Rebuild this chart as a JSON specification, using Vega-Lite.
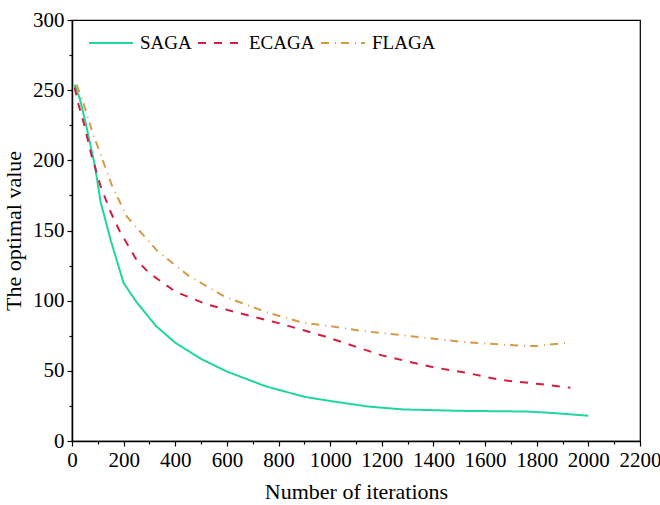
{
  "$schema": "https://vega.github.io/schema/vega-lite/v6.json",
  "width": 568,
  "height": 421,
  "autosize": {"type": "none"},
  "padding": {"left": 72, "top": 20, "right": 20, "bottom": 64},
  "background": "white",
  "config": {
    "font": "Liberation Serif",
    "view": {"stroke": "black", "strokeWidth": 1.2},
    "axis": {
      "grid": false,
      "domainColor": "black",
      "domainWidth": 1.5,
      "tickColor": "black",
      "tickWidth": 1.2,
      "tickSize": 5,
      "labelColor": "black",
      "titleColor": "black",
      "labelFont": "Liberation Serif",
      "titleFont": "Liberation Serif",
      "labelFontSize": 21,
      "titleFontSize": 22,
      "titleFontWeight": "normal"
    },
    "legend": {"labelFont": "Liberation Serif", "labelFontWeight": "normal"}
  },
  "data": {
    "values": [
      {"algorithm": "SAGA", "iterations": 10, "value": 254},
      {"algorithm": "SAGA", "iterations": 30, "value": 244},
      {"algorithm": "SAGA", "iterations": 50, "value": 229},
      {"algorithm": "SAGA", "iterations": 70, "value": 212},
      {"algorithm": "SAGA", "iterations": 90, "value": 195},
      {"algorithm": "SAGA", "iterations": 110, "value": 171},
      {"algorithm": "SAGA", "iterations": 150, "value": 143},
      {"algorithm": "SAGA", "iterations": 200, "value": 112.5},
      {"algorithm": "SAGA", "iterations": 250, "value": 99},
      {"algorithm": "SAGA", "iterations": 325, "value": 82},
      {"algorithm": "SAGA", "iterations": 400, "value": 70},
      {"algorithm": "SAGA", "iterations": 500, "value": 58.5},
      {"algorithm": "SAGA", "iterations": 600, "value": 49.5},
      {"algorithm": "SAGA", "iterations": 750, "value": 39},
      {"algorithm": "SAGA", "iterations": 900, "value": 31.5},
      {"algorithm": "SAGA", "iterations": 1000, "value": 28.5},
      {"algorithm": "SAGA", "iterations": 1150, "value": 24.5},
      {"algorithm": "SAGA", "iterations": 1280, "value": 22.5},
      {"algorithm": "SAGA", "iterations": 1500, "value": 21.5},
      {"algorithm": "SAGA", "iterations": 1760, "value": 21},
      {"algorithm": "SAGA", "iterations": 1860, "value": 20},
      {"algorithm": "SAGA", "iterations": 2000, "value": 18},
      {"algorithm": "ECAGA", "iterations": 10, "value": 252},
      {"algorithm": "ECAGA", "iterations": 25, "value": 240},
      {"algorithm": "ECAGA", "iterations": 45, "value": 227},
      {"algorithm": "ECAGA", "iterations": 75, "value": 204},
      {"algorithm": "ECAGA", "iterations": 110, "value": 182},
      {"algorithm": "ECAGA", "iterations": 150, "value": 163},
      {"algorithm": "ECAGA", "iterations": 186, "value": 149},
      {"algorithm": "ECAGA", "iterations": 225, "value": 137},
      {"algorithm": "ECAGA", "iterations": 250, "value": 129},
      {"algorithm": "ECAGA", "iterations": 300, "value": 119.5},
      {"algorithm": "ECAGA", "iterations": 400, "value": 106.5},
      {"algorithm": "ECAGA", "iterations": 520, "value": 97.5},
      {"algorithm": "ECAGA", "iterations": 650, "value": 91},
      {"algorithm": "ECAGA", "iterations": 800, "value": 84},
      {"algorithm": "ECAGA", "iterations": 980, "value": 74.5},
      {"algorithm": "ECAGA", "iterations": 1200, "value": 61},
      {"algorithm": "ECAGA", "iterations": 1400, "value": 52.5},
      {"algorithm": "ECAGA", "iterations": 1530, "value": 48.5},
      {"algorithm": "ECAGA", "iterations": 1660, "value": 43.5},
      {"algorithm": "ECAGA", "iterations": 1790, "value": 41},
      {"algorithm": "ECAGA", "iterations": 1930, "value": 38},
      {"algorithm": "FLAGA", "iterations": 18, "value": 254},
      {"algorithm": "FLAGA", "iterations": 38, "value": 244},
      {"algorithm": "FLAGA", "iterations": 57, "value": 233.5},
      {"algorithm": "FLAGA", "iterations": 76, "value": 221.6},
      {"algorithm": "FLAGA", "iterations": 102, "value": 208.6},
      {"algorithm": "FLAGA", "iterations": 128, "value": 195.5},
      {"algorithm": "FLAGA", "iterations": 154, "value": 182.4},
      {"algorithm": "FLAGA", "iterations": 212, "value": 160},
      {"algorithm": "FLAGA", "iterations": 330, "value": 135.5},
      {"algorithm": "FLAGA", "iterations": 450, "value": 118},
      {"algorithm": "FLAGA", "iterations": 590, "value": 103},
      {"algorithm": "FLAGA", "iterations": 750, "value": 92},
      {"algorithm": "FLAGA", "iterations": 890, "value": 84.5},
      {"algorithm": "FLAGA", "iterations": 993, "value": 82},
      {"algorithm": "FLAGA", "iterations": 1115, "value": 78.6},
      {"algorithm": "FLAGA", "iterations": 1348, "value": 74},
      {"algorithm": "FLAGA", "iterations": 1503, "value": 70.8},
      {"algorithm": "FLAGA", "iterations": 1590, "value": 69.6},
      {"algorithm": "FLAGA", "iterations": 1742, "value": 67.8},
      {"algorithm": "FLAGA", "iterations": 1800, "value": 67.7},
      {"algorithm": "FLAGA", "iterations": 1900, "value": 69.6},
      {"algorithm": "FLAGA", "iterations": 1920, "value": 70.5}
    ]
  },
  "layer": [
    {
      "mark": {"type": "line", "strokeWidth": 2},
      "encoding": {
        "x": {
          "field": "iterations",
          "type": "quantitative",
          "scale": {"domain": [0, 2200], "nice": false, "zero": false},
          "axis": {
            "orient": "bottom",
            "values": [0, 200, 400, 600, 800, 1000, 1200, 1400, 1600, 1800, 2000, 2200],
            "format": "d",
            "title": "Number of iterations",
            "labelPadding": 3,
            "titlePadding": 11,
            "labelFlush": false,
            "labelOverlap": false
          }
        },
        "y": {
          "field": "value",
          "type": "quantitative",
          "scale": {"domain": [0, 300], "nice": false},
          "axis": {
            "orient": "left",
            "values": [0, 50, 100, 150, 200, 250, 300],
            "format": "d",
            "title": "The optimal value",
            "labelPadding": 3,
            "titlePadding": 7
          }
        },
        "color": {
          "field": "algorithm",
          "type": "nominal",
          "scale": {"domain": ["SAGA", "ECAGA", "FLAGA"], "range": ["#1fd6a0", "#d11f42", "#d39c45"]},
          "legend": {
            "orient": "none",
            "legendX": 16,
            "legendY": 0,
            "direction": "horizontal",
            "title": null,
            "symbolType": "stroke",
            "symbolSize": 1936,
            "symbolStrokeWidth": 2,
            "labelFont": "Liberation Serif",
            "labelFontSize": 19,
            "labelFontWeight": "normal",
            "labelColor": "black",
            "labelOffset": 6,
            "columnPadding": 2,
            "padding": 0
          }
        },
        "strokeDash": {
          "field": "algorithm",
          "type": "nominal",
          "scale": {"domain": ["SAGA", "ECAGA", "FLAGA"], "range": [[1, 0], [8, 8], [8, 6, 1, 5]]},
          "legend": {
            "orient": "none",
            "legendX": 16,
            "legendY": 0,
            "direction": "horizontal",
            "title": null,
            "symbolType": "stroke",
            "symbolSize": 1936,
            "symbolStrokeWidth": 2,
            "labelFont": "Liberation Serif",
            "labelFontSize": 19,
            "labelFontWeight": "normal",
            "labelColor": "black",
            "labelOffset": 6,
            "columnPadding": 2,
            "padding": 0
          }
        }
      }
    },
    {
      "mark": {"type": "line", "strokeOpacity": 0},
      "encoding": {
        "x": {
          "field": "iterations",
          "type": "quantitative",
          "axis": {
            "orient": "bottom",
            "values": [100, 300, 500, 700, 900, 1100, 1300, 1500, 1700, 1900, 2100],
            "labels": false,
            "domain": false,
            "tickSize": 3,
            "title": null
          }
        },
        "y": {
          "field": "value",
          "type": "quantitative",
          "axis": {
            "orient": "left",
            "values": [25, 75, 125, 175, 225, 275],
            "labels": false,
            "domain": false,
            "tickSize": 3,
            "title": null
          }
        },
        "detail": {"field": "algorithm"}
      }
    }
  ],
  "resolve": {"axis": {"x": "independent", "y": "independent"}}
}
